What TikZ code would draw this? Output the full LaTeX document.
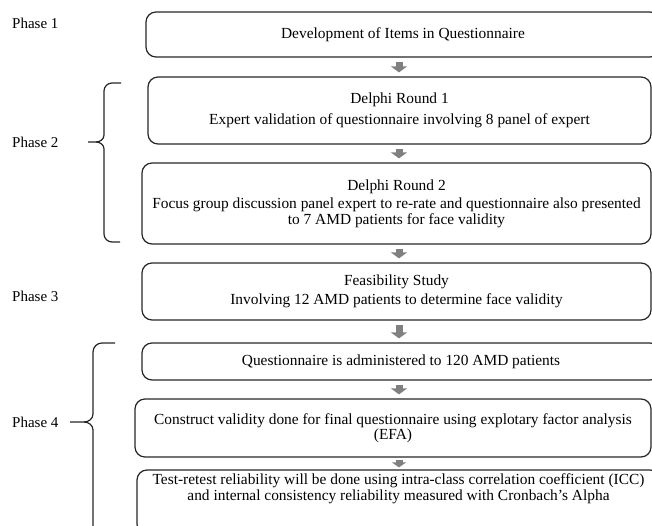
\documentclass[tikz,border=0pt]{standalone}
\usepackage{fontspec}
\setmainfont{Liberation Serif}
\usepackage{tikz}
\usetikzlibrary{positioning,arrows.meta}

\tikzset{
  stage/.style={draw=black!85, line width=1.2pt, rounded corners=10pt, align=center, inner sep=0pt, font=\fontsize{15.4}{15.5}\selectfont},
  phase/.style={anchor=west, inner sep=0pt, font=\fontsize{15}{15}\selectfont},
  flow/.style={line width=7pt, draw=black!50, -{Triangle[length=6pt,width=16pt]}, shorten <=4pt, shorten >=4pt},
  brace/.style={line width=1.2pt, black!85}
}

\begin{document}
\begin{tikzpicture}[x=1pt, y=-1pt]
  \useasboundingbox (0,0) rectangle (652,526);
  \node[phase] (P1) at (12,23) {Phase 1};
  \node[phase] (P2) at (12,142) {Phase 2};
  \node[phase] (P3) at (12,296) {Phase 3};
  \node[phase] (P4) at (12,422) {Phase 4};
  \node[stage, minimum width=514pt, minimum height=45pt] (B1) at (403,34.5) {Development of Items in Questionnaire};
  \node[stage, minimum width=503pt, minimum height=67pt] (B2) at (399.5,110.5) {Delphi Round 1\\[5pt] Expert validation of questionnaire involving 8 panel of expert};
  \node[stage, minimum width=509pt, minimum height=81pt] (B3) at (396.5,203.5) {Delphi Round 2\\[3pt] Focus group discussion panel expert to re-rate and questionnaire also presented\\ to 7 AMD patients for face validity};
  \node[stage, minimum width=509pt, minimum height=57pt] (B4) at (396.5,291.5) {Feasibility Study\\[4pt] Involving 12 AMD patients to determine face validity};
  \node[stage, minimum width=518pt, minimum height=37pt] (B5) at (401,361.5) {Questionnaire is administered to 120 AMD patients};
  \node[stage, minimum width=516pt, minimum height=58pt] (B6) at (393,428) {Construct validity done for final questionnaire using explotary factor analysis\\ (EFA)};
  \node[stage, minimum width=523pt, minimum height=64pt] (B7) at (398.5,502) {Test-retest reliability will be done using intra-class correlation coefficient (ICC)\\ and internal consistency reliability measured with Cronbach's Alpha\\[14pt]};
  \coordinate (ax) at (399,0);
  \draw[flow] (B1.south -| ax) -- (B2.north -| ax);
  \draw[flow] (B2.south -| ax) -- (B3.north -| ax);
  \draw[flow] (B3.south -| ax) -- (B4.north -| ax);
  \draw[flow] (B4.south -| ax) -- (B5.north -| ax);
  \draw[flow] (B5.south -| ax) -- (B6.north -| ax);
  \draw[flow, shorten <=2pt, shorten >=2pt, -{Triangle[length=5pt,width=14pt]}] (B6.south -| ax) -- (B7.north -| ax);
  \draw[brace] (121,83) -- (112,83) to[out=180,in=90] (104,91) -- (104,135) to[out=-90,in=0] (96,142) -- (88,142);
  \draw[brace] (96,142) to[out=0,in=90] (104,149) -- (104,234) to[out=-90,in=180] (112,242) -- (120,242);
  \draw[brace] (115,343) -- (102,343) to[out=180,in=90] (93,352) -- (93,414) to[out=-90,in=0] (84,422) -- (70,422);
  \draw[brace] (84,422) to[out=0,in=90] (93,430) -- (93,530);
\end{tikzpicture}
\end{document}
